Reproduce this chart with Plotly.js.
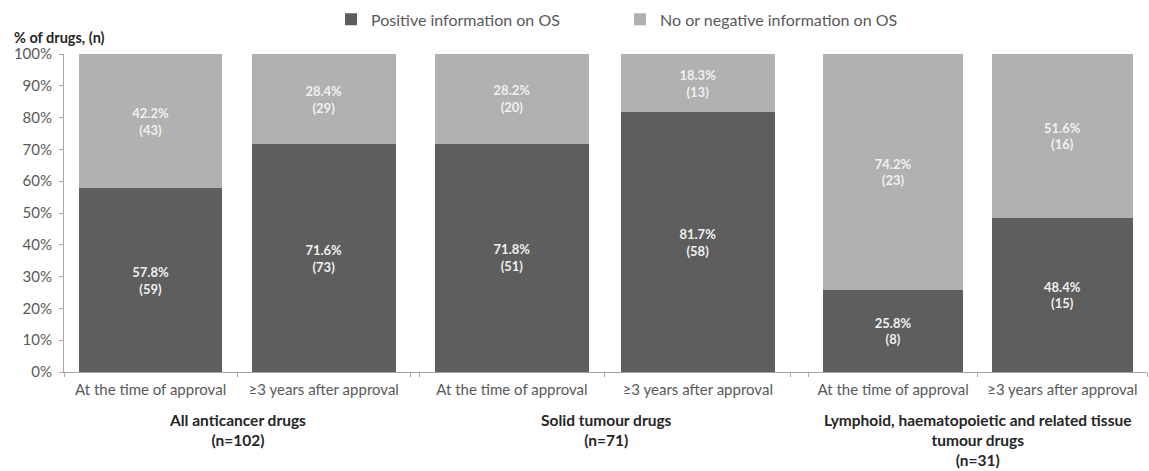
<!DOCTYPE html>
<html>
<head>
<meta charset="utf-8">
<script src="https://cdn.plot.ly/plotly-3.0.1.min.js"></script>
<style>html,body{margin:0;padding:0;background:#fff;}#chart{width:1149px;height:471px;}</style>
</head>
<body>
<div id="chart"></div>
<script>
const categories = ['At the time of approval', '\u22653 years after approval'];
const groupNames = ['All anticancer drugs', 'Solid tumour drugs', 'Lymphoid, haematopoietic and related tissue<br>tumour drugs'];
const groupN = [102, 71, 31];
const seriesNames = ['Positive information on OS', 'No or negative information on OS'];
const positivePct = [57.8, 71.6, 71.8, 81.7, 25.8, 48.4];
const positiveN = [59, 73, 51, 58, 8, 15];
const negativePct = [42.2, 28.4, 28.2, 18.3, 74.2, 51.6];
const negativeN = [43, 29, 20, 13, 23, 16];
const yTicks = [0, 10, 20, 30, 40, 50, 60, 70, 80, 90, 100];

const FONT = 'Lato, "Open Sans", sans-serif';
const darkColor = '#5e5e5e';
const lightColor = '#b1b1b1';
const axisColor = '#a6a6a6';
const tickColor = '#595959';

const xNames = ['x', 'x2', 'x3'];
const traces = [];
groupNames.forEach((g, gi) => {
  const idx = [gi * 2, gi * 2 + 1];
  traces.push({
    type: 'bar', name: seriesNames[0], legendgroup: 'pos', showlegend: gi === 0,
    x: categories, y: idx.map(i => positivePct[i]),
    text: idx.map(i => positivePct[i].toFixed(1) + '%<br>(' + positiveN[i] + ')'),
    textposition: 'inside', insidetextanchor: 'middle', textangle: 0,
    textfont: {family: FONT, size: 13, color: '#f0f0f0', weight: 700},
    marker: {color: darkColor, line: {width: 0}},
    xaxis: xNames[gi], yaxis: 'y', hoverinfo: 'skip'
  });
  traces.push({
    type: 'bar', name: seriesNames[1], legendgroup: 'neg', showlegend: gi === 0,
    x: categories, y: idx.map(i => negativePct[i]),
    text: idx.map(i => negativePct[i].toFixed(1) + '%<br>(' + negativeN[i] + ')'),
    textposition: 'inside', insidetextanchor: 'middle', textangle: 0,
    textfont: {family: FONT, size: 13, color: '#f0f0f0', weight: 700},
    marker: {color: lightColor, line: {width: 0}},
    xaxis: xNames[gi], yaxis: 'y', hoverinfo: 'skip'
  });
});

// pixel helpers for layout placement (plot area: x 64..1147, y 50..372)
const L = 64, W = 1083, T = 50, H = 322;
const px = v => (v - L) / W;
const py = v => (T + H - v) / H;

function xaxisDef(d0, d1, range) {
  return {
    domain: [px(d0), px(d1)], anchor: 'y', type: 'category', range: range,
    showline: true, linecolor: axisColor, linewidth: 1,
    ticks: 'outside', tickson: 'boundaries', ticklen: 4, tickcolor: axisColor,
    ticklabelstandoff: 4,
    showgrid: false, zeroline: false, fixedrange: true,
    tickfont: {family: FONT, size: 15, color: tickColor}
  };
}

const annotations = groupNames.map((g, gi) => ({
  text: '<b>' + g + '<br>(n=' + groupN[gi] + ')</b>',
  xref: 'paper', yref: 'paper',
  x: px([237, 606, 977][gi]), y: py(409), xanchor: 'center', yanchor: 'top',
  showarrow: false, align: 'center',
  font: {family: FONT, size: 15.5, color: '#262626'}
}));
annotations.push({
  text: '<b>% of drugs, (n)</b>', xref: 'paper', yref: 'paper',
  x: px(12), y: py(33), xanchor: 'left', yanchor: 'middle', showarrow: false,
  font: {family: FONT, size: 14.5, color: '#262626'}
});

const layout = {
  width: 1149, height: 471,
  margin: {l: L, r: 1149 - L - W, t: T, b: 471 - T - H, pad: 0},
  paper_bgcolor: '#ffffff', plot_bgcolor: '#ffffff',
  barmode: 'stack', bargap: 0.17,
  font: {family: FONT, color: tickColor},
  showlegend: true,
  legend: {
    orientation: 'h', x: px(331), y: py(15), xanchor: 'left', yanchor: 'middle',
    font: {family: FONT, size: 16, color: tickColor},
    traceorder: 'normal', entrywidth: 244, entrywidthmode: 'pixels',
    itemclick: false, itemdoubleclick: false, bgcolor: 'rgba(0,0,0,0)'
  },
  xaxis: xaxisDef(64, 419, [-0.5, 1.55]),
  xaxis2: xaxisDef(419, 800, [-0.5, 1.55]),
  xaxis3: xaxisDef(800, 1147, [-0.55, 1.5]),
  yaxis: {
    domain: [0, 1], anchor: 'x', range: [0, 100], tickvals: yTicks,
    ticktext: yTicks.map(v => v + '%'),
    showline: true, linecolor: axisColor, linewidth: 1,
    ticks: 'outside', ticklen: 4, tickcolor: axisColor,
    ticklabelstandoff: 4,
    showgrid: false, zeroline: false, fixedrange: true,
    tickfont: {family: FONT, size: 15, color: tickColor}
  },
  annotations: annotations
};

Plotly.newPlot('chart', traces, layout, {displayModeBar: false, staticPlot: true});
</script>
</body>
</html>
